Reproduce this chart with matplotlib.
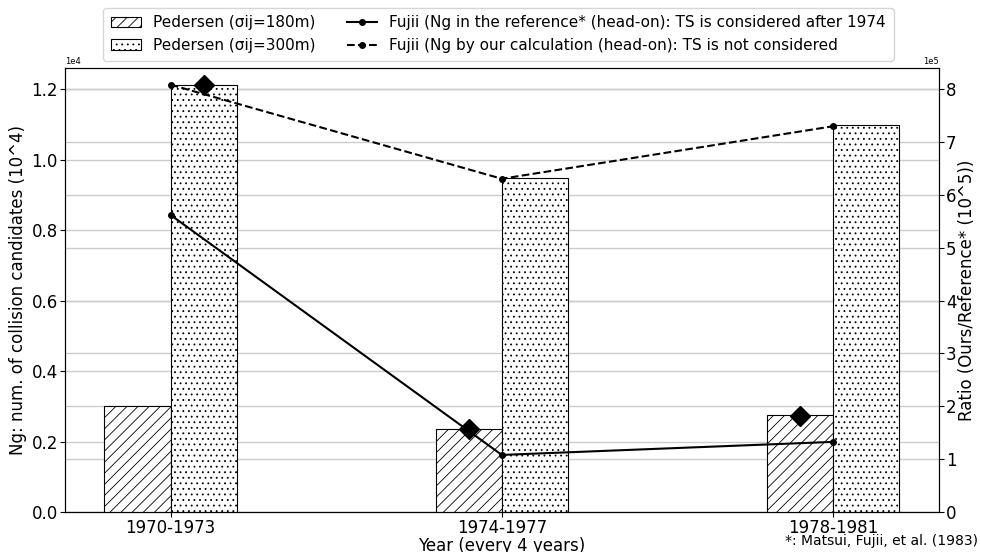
import numpy as np
import matplotlib
matplotlib.use("Agg")
import matplotlib.pyplot as plt

periods = ["1970-1973", "1974-1977", "1978-1981"]
pedersen_180 = [0.300e4, 0.235e4, 0.275e4]
pedersen_300 = [1.211e4, 0.948e4, 1.098e4]
fujii_ref = [0.843e4, 0.162e4, 0.199e4]
fujii_ours = [1.213e4, 0.946e4, 1.095e4]
ratio_x = [0.1, 0.9, 1.9]
ratio = [8.09e5, 1.57e5, 1.81e5]

x = np.arange(len(periods))
w = 0.2

plt.rcParams['hatch.linewidth'] = 0.6

fig = plt.figure(figsize=(9.81, 5.52), dpi=100)
ax = fig.add_axes([0.066, 0.0725, 0.891, 0.804])
ax2 = ax.twinx()

# bars and lines on ax, ratio diamonds on ax2 (behind)
ax.set_zorder(ax2.get_zorder() + 1)
ax.patch.set_visible(False)
ax.set_axisbelow(True)

b1 = ax.bar(x - w / 2, pedersen_180, w, color="white", edgecolor="black",
            linewidth=0.8, hatch="///", label="Pedersen (σij=180m)")
b2 = ax.bar(x + w / 2, pedersen_300, w, color="white", edgecolor="black",
            linewidth=0.8, hatch="...", label="Pedersen (σij=300m)")
l1, = ax.plot(x, fujii_ref, "-o", color="black", markersize=4, linewidth=1.5,
              label="Fujii (Ng in the reference* (head-on): TS is considered after 1974")
l2, = ax.plot(x, fujii_ours, "--o", color="black", markersize=4, linewidth=1.5,
              label="Fujii (Ng by our calculation (head-on): TS is not considered")
ax.plot(ratio_x, ratio, "D", color="black", markersize=10, zorder=5,
        transform=ax2.transData)

ax.set_ylim(0, 1.26e4)
ax2.set_ylim(0, 8.4e5)
ax.set_xticks(x)
ax.set_xticklabels(periods)
ax.grid(axis="y", color="#cccccc", linewidth=1)
ax2.grid(axis="y", color="#cccccc", linewidth=1)

ax.ticklabel_format(axis="y", style="sci", scilimits=(0, 0))
ax2.ticklabel_format(axis="y", style="sci", scilimits=(0, 0))
ax.yaxis.get_offset_text().set_fontsize(6)
ax2.yaxis.get_offset_text().set_fontsize(6)

ax.tick_params(labelsize=12, pad=1.5)
ax2.tick_params(labelsize=12, pad=1.5)
ax.set_xlabel("Year (every 4 years)", fontsize=12, labelpad=0)
ax.set_ylabel("Ng: num. of collision candidates (10^4)", fontsize=12, labelpad=3)
ax2.set_ylabel("Ratio (Ours/Reference* (10^5))", fontsize=12, labelpad=1)

fig.text(0.997, 0.008, "*: Matsui, Fujii, et al. (1983)", ha="right", va="bottom",
         fontsize=10)

ax.legend(handles=[b1, b2, l1, l2], ncol=2, loc="lower center",
          bbox_to_anchor=(0.496, 1.0), fontsize=11, columnspacing=2.0,
          borderpad=0.5)

fig.savefig("out.png", dpi=100)
